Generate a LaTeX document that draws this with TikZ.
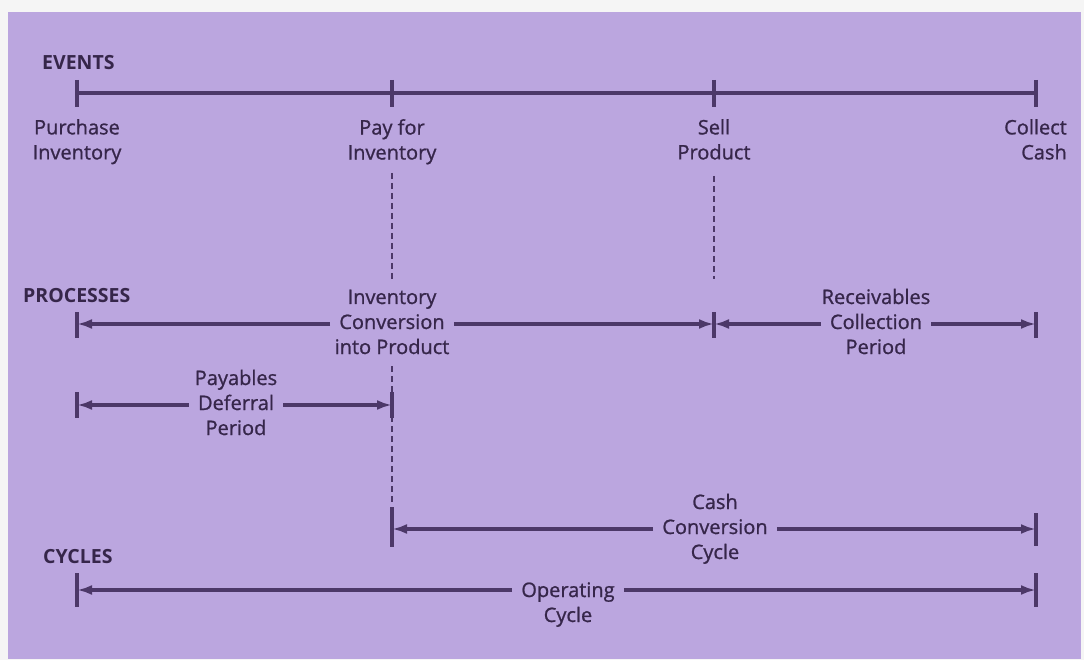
\documentclass[tikz,border=0pt]{standalone}
\usepackage{fontspec}
\setmainfont{Open Sans}[BoldFont={Open Sans Bold}]
\newfontfamily\medfont{Open Sans}[BoldFont={Open Sans},BoldFeatures={FakeBold=1.0}]
\usetikzlibrary{arrows.meta}
\definecolor{bgpurple}{RGB}{187,166,223}
\definecolor{ink}{RGB}{54,38,74}
\definecolor{linec}{RGB}{76,56,104}
\tikzset{
  lbl/.style={text=ink, font=\medfont\bfseries\fontsize{20}{25}\selectfont, align=center, inner sep=2pt},
  row/.style={text=ink, font=\medfont\bfseries\fontsize{20}{25}\selectfont, inner xsep=9pt, inner ysep=0pt, text height=14pt, text depth=4pt},
  head/.style={text=ink, font=\fontsize{19.5}{21}\selectfont\bfseries, anchor=base west, inner sep=0pt},
  bar/.style={draw=linec, line width=3.2pt},
  tickbar/.style={draw=linec, line width=3.2pt},
  arr/.style={draw=linec, line width=3.2pt, -{Latex[length=15pt,width=10pt]}},
  dash line/.style={draw=linec, line width=2.4pt, dash pattern=on 6pt off 4pt},
}
\begin{document}
\begin{tikzpicture}[x=1pt,y=-1pt]
\useasboundingbox (0,0) rectangle (1084,660);
\fill[white!96!black] (0,0) rectangle (1084,660);
\fill[bgpurple] (8,12) rectangle (1081,659);

% headings
\node[head] (hev) at (42,70) {EVENTS};
\node[head] (hpr) at (23,302) {PROCESSES};
\node[head] (hcy) at (43,563) {CYCLES};

% EVENTS row
\coordinate (e1) at (77,93);
\coordinate (e2) at (392,93);
\coordinate (e3) at (714,93);
\coordinate (e4) at (1036,93);
\draw[bar] (e1) -- (e4);
\foreach \c in {e1,e2,e3,e4} \draw[tickbar] ([yshift=13pt]\c) -- ([yshift=-14pt]\c);

\node[lbl, anchor=north] (t1) at (77,117) {Purchase\\Inventory};
\node[lbl, anchor=north] (t2) at (392,117) {Pay for\\Inventory};
\node[lbl, anchor=north] (t3) at (714,117) {Sell\\Product};
\node[lbl, anchor=north east, align=right] (t4) at (1069,117) {Collect\\Cash};

% dashed guides
\coordinate (d2a) at (392,173);
\coordinate (d2b) at (392,279);
\coordinate (d3a) at (714,176);
\coordinate (d3b) at (714,279);
\draw[dash line] (d2a) -- (d2b);
\draw[dash line] (d3a) -- (d3b);

% PROCESSES row
\coordinate (p1) at (77,324);
\coordinate (p2) at (714,324);
\coordinate (p3) at (1036,324);
\foreach \c in {p1,p2,p3} \draw[tickbar] ([yshift=12pt]\c) -- ([yshift=-14pt]\c);
\node[row] (icp) at (392,324) {Conversion};
\node[row] (icpa) at (392,299) {Inventory};
\node[row] (icpb) at (392,349) {into Product};
\draw[arr] (icp.west) -- (p1);
\draw[arr] (icp.east) -- (p2);
\node[row] (rcp) at (876,324) {Collection};
\node[row] (rcpa) at (876,299) {Receivables};
\node[row] (rcpb) at (876,349) {Period};
\draw[arr] (rcp.west) -- (p2);
\draw[arr] (rcp.east) -- (p3);

% payables deferral
\coordinate (q1) at (77,405);
\coordinate (q2) at (392,405);
\draw[tickbar] ([yshift=13pt]q1) -- ([yshift=-13pt]q1);
\node[row] (pdp) at (236,405) {Deferral};
\node[row] (pdpa) at (236,380) {Payables};
\node[row] (pdpb) at (236,430) {Period};
\draw[arr] (pdp.west) -- (q1);
\draw[arr] (pdp.east) -- (q2);

% lower dashed guide and ticks at 392
\coordinate (d4a) at (392,366);
\coordinate (d4b) at (392,505);
\draw[dash line] (d4a) -- (d4b);
\draw[tickbar] ([yshift=13pt]q2) -- ([yshift=-13pt]q2);

% cash conversion cycle
\coordinate (c1) at (392,529);
\coordinate (c2) at (1036,529);
\draw[tickbar] ([yshift=22pt]c1) -- ([yshift=-18pt]c1);
\draw[tickbar] ([yshift=16pt]c2) -- ([yshift=-17pt]c2);
\node[row] (ccc) at (715,529) {Conversion};
\node[row] (ccca) at (715,504) {Cash};
\node[row] (cccb) at (715,554) {Cycle};
\draw[arr] (ccc.west) -- (c1);
\draw[arr] (ccc.east) -- (c2);

% operating cycle
\coordinate (o1) at (77,590);
\coordinate (o2) at (1036,590);
\draw[tickbar] ([yshift=17pt]o1) -- ([yshift=-17pt]o1);
\draw[tickbar] ([yshift=17pt]o2) -- ([yshift=-17pt]o2);
\node[row] (opc) at (568,592) {Operating};
\node[row] (opcb) at (568,617) {Cycle};
\draw[arr] (opc.west |- o1) -- (o1);
\draw[arr] (opc.east |- o2) -- (o2);
\end{tikzpicture}
\end{document}
